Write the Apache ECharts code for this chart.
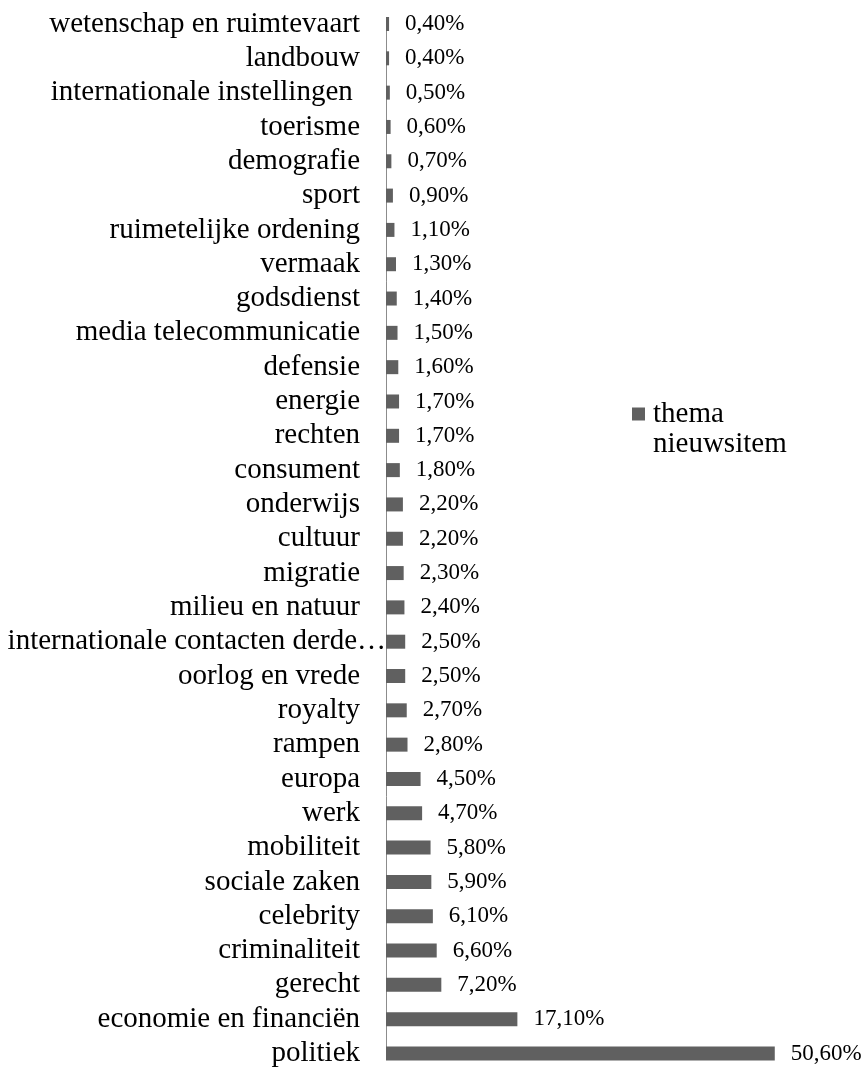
<!DOCTYPE html>
<html>
<head>
<meta charset="utf-8">
<script src="https://cdn.jsdelivr.net/npm/echarts@6/dist/echarts.min.js"></script>
<style>
html,body{margin:0;padding:0;background:#fff;}
#chart{width:867px;height:1068px;}
</style>
</head>
<body>
<div id="chart"></div>
<script>
var categories = [
  'wetenschap en ruimtevaart',
  'landbouw',
  'internationale instellingen ',
  'toerisme',
  'demografie',
  'sport',
  'ruimetelijke ordening',
  'vermaak',
  'godsdienst',
  'media telecommunicatie',
  'defensie',
  'energie',
  'rechten',
  'consument',
  'onderwijs',
  'cultuur',
  'migratie',
  'milieu en natuur',
  'internationale contacten derde\u2026',
  'oorlog en vrede',
  'royalty',
  'rampen',
  'europa',
  'werk',
  'mobiliteit',
  'sociale zaken',
  'celebrity',
  'criminaliteit',
  'gerecht',
  'economie en financi\u00ebn',
  'politiek'
];
var values = [
  0.4, 0.4, 0.5, 0.6, 0.7, 0.9, 1.1, 1.3, 1.4, 1.5,
  1.6, 1.7, 1.7, 1.8, 2.2, 2.2, 2.3, 2.4, 2.5, 2.5,
  2.7, 2.8, 4.5, 4.7, 5.8, 5.9, 6.1, 6.6, 7.2, 17.1,
  50.6
];
var seriesName = 'thema nieuwsitem';
var longLabel = 'internationale contacten derde\u2026';

var FONT = "'Liberation Serif', 'Times New Roman', serif";
var chart = echarts.init(document.getElementById('chart'), null, {renderer: 'canvas'});
chart.setOption({
  animation: false,
  backgroundColor: '#ffffff',
  textStyle: {fontFamily: FONT},
  grid: {left: 386, right: 20, top: 24, bottom: 12, containLabel: false},
  legend: {
    show: true,
    left: 632,
    top: 369,
    padding: 0,
    icon: 'rect',
    itemWidth: 13,
    itemHeight: 13,
    data: [seriesName],
    formatter: function () { return ' \nthema\nnieuwsitem'; },
    textStyle: {
      fontFamily: FONT,
      fontSize: 29,
      lineHeight: 30,
      color: '#000',
      padding: [0, 0, 0, 3]
    }
  },
  xAxis: {
    type: 'value',
    min: 0,
    max: 60,
    show: false
  },
  yAxis: {
    type: 'category',
    data: categories,
    inverse: true,
    boundaryGap: false,
    axisLine: {show: true, lineStyle: {color: '#8c8c8c', width: 1}},
    axisTick: {show: false},
    splitLine: {show: false},
    axisLabel: {
      margin: 0,
      interval: 0,
      fontFamily: FONT,
      fontSize: 29,
      color: '#000',
      formatter: function (v) {
        return v === longLabel ? v : v + '{s| }';
      },
      rich: {
        s: {width: 26, fontSize: 29, fontFamily: FONT}
      }
    }
  },
  series: [{
    name: seriesName,
    type: 'bar',
    data: values,
    barWidth: 14,
    clip: true,
    itemStyle: {color: '#606060'},
    label: {
      show: true,
      position: 'right',
      distance: 16,
      fontFamily: FONT,
      fontSize: 23,
      color: '#000',
      formatter: function (p) {
        return p.value.toFixed(2).replace('.', ',') + '%';
      }
    }
  }]
});
</script>
</body>
</html>
